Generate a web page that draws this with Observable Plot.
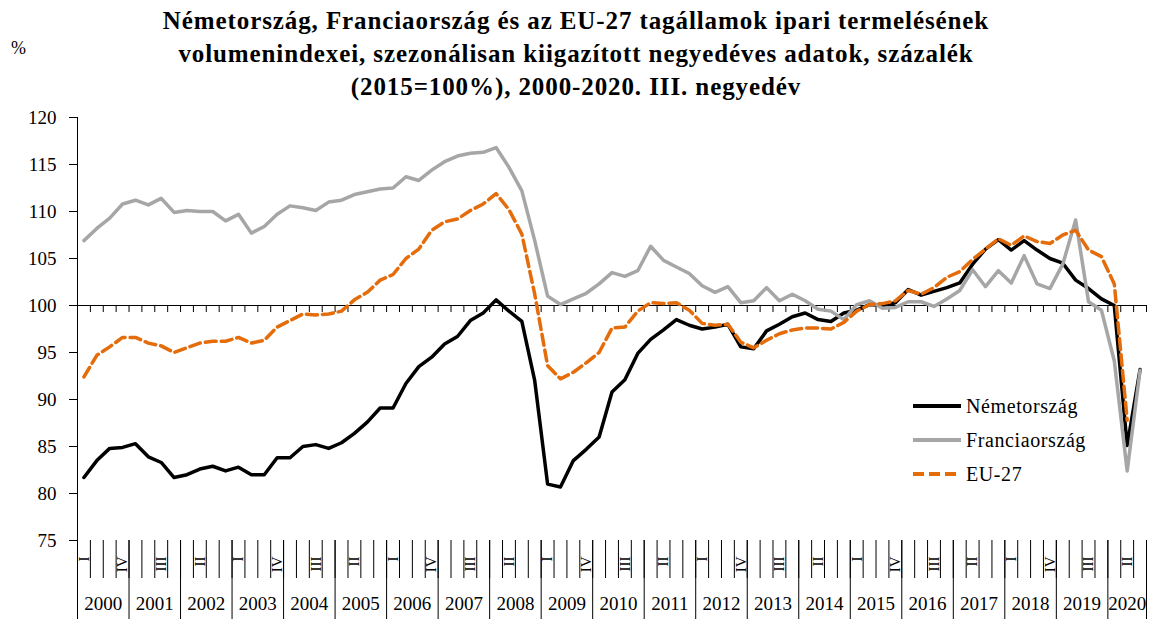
<!DOCTYPE html>
<html><head><meta charset="utf-8">
<script src="https://cdn.jsdelivr.net/npm/d3@7"></script>
<script src="https://cdn.jsdelivr.net/npm/@observablehq/plot@0.6"></script>
<style>
body{margin:0;background:#fff;font-family:"Liberation Serif",serif;color:#000;}
#wrap{position:relative;width:1152px;height:619px;overflow:hidden;}
#title{position:absolute;left:0;top:4px;width:1152px;text-align:center;font-weight:bold;font-size:25px;line-height:33px;letter-spacing:0.9px;}
#unit{position:absolute;left:11px;top:38px;font-size:18px;}
#chart{position:absolute;left:0;top:100px;}
#legend{position:absolute;left:912px;top:389px;font-size:20px;letter-spacing:0.6px;}
.row{display:flex;align-items:center;height:34px;}
.row svg{margin-right:4px;}
</style></head>
<body>
<div id="wrap">
  <div id="title">Németország, Franciaország és az EU-27 tagállamok ipari termelésének<br>volumenindexei, szezonálisan kiigazított negyedéves adatok, százalék<br>(2015=100%), 2000-2020. III. negyedév</div>
  <div id="unit">%</div>
  <div id="chart"></div>
  <div id="legend"></div>
</div>
<script>
const years = [2000,2001,2002,2003,2004,2005,2006,2007,2008,2009,2010,2011,2012,2013,2014,2015,2016,2017,2018,2019,2020];
const quartersPerYear = [4,4,4,4,4,4,4,4,4,4,4,4,4,4,4,4,4,4,4,4,3];
const quarterNames = ["I","II","III","IV"];
const yTicks = [75,80,85,90,95,100,105,110,115,120];
const seriesNames = ["Németország","Franciaország","EU-27"];

const nemetorszag = [81.7,83.5,84.8,84.9,85.3,83.9,83.3,81.7,82.0,82.6,82.9,82.4,82.8,82.0,82.0,83.8,83.8,85.0,85.2,84.8,85.4,86.4,87.6,89.1,89.1,91.7,93.5,94.5,95.9,96.7,98.4,99.2,100.6,99.4,98.3,92.0,81.0,80.7,83.5,84.7,86.0,90.8,92.1,94.9,96.4,97.4,98.5,97.9,97.5,97.7,98.0,95.6,95.4,97.3,98.0,98.8,99.2,98.5,98.3,99.2,99.5,100.1,100.0,100.3,101.7,101.1,101.5,101.9,102.4,104.4,106.0,107.0,105.9,106.9,105.9,105.0,104.5,102.7,101.8,100.7,100.0,85.1,93.2];
const franciaorszag = [106.9,108.2,109.3,110.8,111.2,110.7,111.4,109.9,110.1,110.0,110.0,109.0,109.7,107.7,108.4,109.7,110.6,110.4,110.1,111.0,111.2,111.8,112.1,112.4,112.5,113.7,113.3,114.4,115.3,115.9,116.2,116.3,116.8,114.7,112.2,106.9,101.0,100.1,100.7,101.3,102.3,103.5,103.1,103.7,106.3,104.8,104.1,103.4,102.1,101.4,102.0,100.3,100.5,101.9,100.5,101.2,100.5,99.6,99.4,98.5,100.1,100.5,99.7,99.8,100.4,100.4,99.9,100.7,101.6,103.8,102.0,103.7,102.4,105.3,102.3,101.8,104.4,109.1,100.4,99.5,94.1,82.4,93.1];
const eu27 = [92.4,94.7,95.6,96.6,96.6,96.0,95.7,95.0,95.5,96.0,96.2,96.2,96.6,96.0,96.3,97.7,98.4,99.1,99.0,99.1,99.4,100.6,101.4,102.7,103.3,105.0,106.0,108.0,108.9,109.2,110.1,110.8,111.9,110.2,107.6,101.2,93.6,92.2,92.9,93.9,95.0,97.6,97.7,99.4,100.3,100.2,100.3,99.5,98.1,97.9,98.0,96.1,95.5,96.3,97.0,97.4,97.6,97.6,97.5,98.2,99.4,100.1,100.2,100.5,101.6,101.2,101.9,103.0,103.6,104.9,106.0,107.1,106.4,107.4,106.8,106.6,107.5,108.0,105.9,105.2,102.3,87.8];

// quarter table
const quarters = [];
years.forEach((yr, k) => { for (let q = 0; q < quartersPerYear[k]; q++) quarters.push({year: yr, q, idx: quarters.length}); });
const nQ = quarters.length;
const qBounds = quarters.map(d => d.idx - 0.5).concat([nQ - 0.5]);
const yBounds = quarters.filter(d => d.q === 0).map(d => d.idx - 0.5).concat([nQ - 0.5]);
const labelQ = quarters.filter(d => d.idx % 3 === 0);
const yearCenters = years.map(yr => d3.mean(quarters.filter(d => d.year === yr), d => d.idx));

const colors = ["#000000", "#A6A6A6", "#E46C0A"];
const toRows = (arr) => arr.map((v, i) => ({i, v}));

const chart = Plot.plot({
  width: 1152, height: 519,
  marginTop: 17, marginBottom: 79, marginLeft: 77, marginRight: 6,
  x: {type: "linear", domain: [-0.5, nQ - 0.5], axis: null},
  y: {domain: [75, 120], axis: null},
  style: {fontFamily: "Liberation Serif", fontSize: "19px", color: "#000", background: "transparent"},
  marks: [
    Plot.axisY({ticks: yTicks, tickSize: 8, tickPadding: 13, label: null, fontSize: 19}),
    Plot.ruleX([-0.5], {x: d => d, stroke: "#000"}),
    Plot.ruleY([100], {stroke: "#000"}),
    Plot.ruleX(qBounds, {x: d => d, y1: 100, y2: 100, insetBottom: -7, stroke: "#000"}),
    Plot.axisX({ticks: qBounds, tickSize: 38, tickFormat: () => "", label: null}),
    Plot.axisX({ticks: yBounds, tickSize: 79, tickFormat: () => "", label: null}),
    Plot.axisX({ticks: labelQ.map(d => d.idx), tickSize: 0, tickPadding: 16, tickRotate: -90,
      tickFormat: (v) => quarterNames[quarters[v].q], fontSize: 15, label: null}),
    Plot.axisX({ticks: yearCenters, tickSize: 0, tickPadding: 56,
      tickFormat: (v, k) => String(years[k]), fontSize: 19, label: null}),
    Plot.line(toRows(nemetorszag), {x: "i", y: "v", stroke: colors[0], strokeWidth: 3.5}),
    Plot.line(toRows(franciaorszag), {x: "i", y: "v", stroke: colors[1], strokeWidth: 3.5}),
    Plot.line(toRows(eu27), {x: "i", y: "v", stroke: colors[2], strokeWidth: 3.5, strokeDasharray: "11,5"})
  ]
});
document.getElementById("chart").appendChild(chart);

const leg = document.getElementById("legend");
seriesNames.forEach((name, k) => {
  const row = document.createElement("div");
  row.className = "row";
  const dash = k === 2 ? 'stroke-dasharray="11,5"' : '';
  row.innerHTML = `<svg width="50" height="10"><line x1="1" x2="49" y1="5" y2="5" stroke="${colors[k]}" stroke-width="4" ${dash}/></svg><span>${name}</span>`;
  leg.appendChild(row);
});
</script>
</body></html>
